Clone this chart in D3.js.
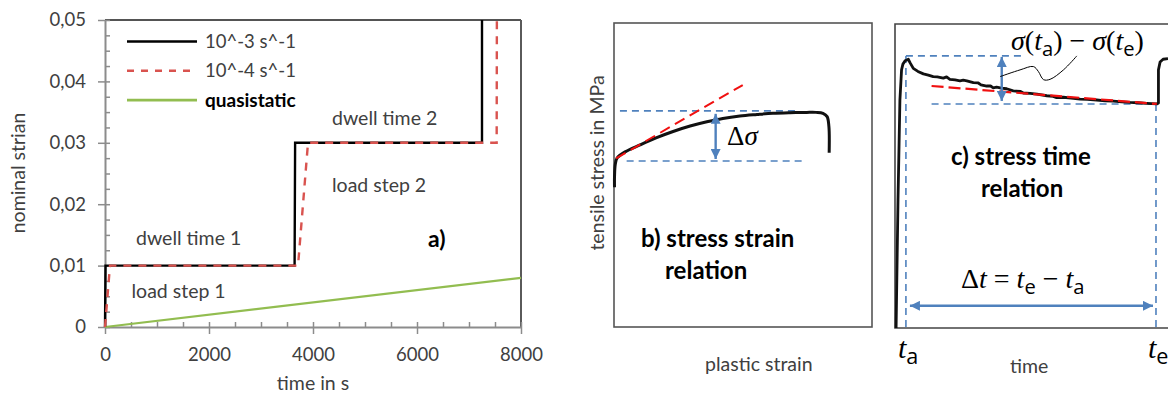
<!DOCTYPE html>
<html><head><meta charset="utf-8">
<script src="https://cdn.jsdelivr.net/npm/d3@7"></script>
<style>
html,body{margin:0;padding:0;background:#fff;}
svg{display:block;font-family:Lato,"Open Sans",sans-serif;}
</style></head><body>
<svg id="chart" width="1168" height="396"></svg>
<script>
// ================= DATA =================
// panel a) nominal strain vs time
const timeTicks = [0, 2000, 4000, 6000, 8000];
const timeMinorTicks = [0,500,1000,1500,2000,2500,3000,3500,4000,4500,5000,5500,6000,6500,7000,7500,8000];
const strainTicks = [0, 0.01, 0.02, 0.03, 0.04, 0.05];
const strainMinorTicks = [0,0.0025,0.005,0.0075,0.01,0.0125,0.015,0.0175,0.02,0.0225,0.025,0.0275,0.03,0.0325,0.035,0.0375,0.04,0.0425,0.045,0.0475,0.05];
const seriesNames = ["10^-3 s^-1", "10^-4 s^-1", "quasistatic"];
const fastTime   = [0, 10, 3646, 3656, 7250, 7250];
const fastStrain = [0, 0.01, 0.01, 0.03, 0.03, 0.05];
const slowTime   = [0, 96, 3712, 3904, 7532, 7536];
const slowStrain = [0, 0.01, 0.01, 0.03, 0.03, 0.05];
const quasiTime   = [0, 8000];
const quasiStrain = [0, 0.008];
const labelsA = ["dwell time 1", "load step 1", "dwell time 2", "load step 2", "a)"];
const titlesA = ["time in s", "nominal strian"];

// panel b) stress strain relation (schematic units 0..100)
const bStrain = [0.2, 0.2, 0.5, 1.2, 4.3, 10.1, 16.3, 22.9, 29.5, 36.0, 42.2, 48.8, 55.4, 61.6, 68.2, 74.7, 78.3, 81.0, 82.6, 83.3, 83.4];
const bStress = [46, 49.5, 53.5, 55.6, 57.6, 59.9, 62.2, 64.3, 66.1, 67.5, 68.6, 69.4, 69.9, 70.3, 70.5, 70.6, 70.6, 70.3, 69.2, 65.9, 57.3];
const bTangentStrain = [0.8, 49.9];
const bTangentStress = [55.5, 79.6];
const bUpperLevel = {from: 2.3, to: 70.9, stress: 71.1};
const bLowerLevel = {from: 4.9, to: 73.3, stress: 54.6};
const bArrowStrain = 39.4;
const titlesB = ["plastic strain", "tensile stress in MPa", "b) stress strain", "relation"];

// panel c) stress time relation (schematic units 0..100)
const cTime   = [0.4, 1.1, 1.8, 2.4, 2.9, 3.7, 4.9, 5.5, 6.7, 8.4, 10.4, 12.2, 14.0, 15.5, 17.7, 18.9, 20.1, 22.0, 23.8, 25.0, 26.3, 28.7, 30.5, 31.5, 33.6, 35.0, 36.0, 37.2, 39.0, 40.9, 43.3, 46.0, 47.0, 49.5, 52.0, 55.6, 58.0, 59.0, 61.7, 64.5, 67.8, 70.5, 73.9, 77.0, 80.0, 83.0, 86.1, 89.0, 92.2, 95.9, 96.5, 96.5, 97.1, 98.2, 100];
const cStress = [0, 42.1, 75.0, 84.9, 86.8, 87.9, 88.4, 87.3, 85.4, 84.4, 83.6, 83.2, 82.7, 82.6, 82.2, 82.6, 81.8, 81.6, 81.3, 81.5, 81.3, 80.7, 80.6, 80.0, 79.6, 79.6, 79.0, 79.2, 78.9, 78.7, 78.0, 77.8, 77.3, 77.2, 76.9, 76.4, 76.2, 75.8, 75.9, 75.6, 75.3, 75.2, 75.0, 74.7, 74.6, 74.4, 74.2, 74.1, 73.9, 73.7, 74.0, 84.9, 87.5, 88.4, 88.6];
const cTrendTime = [13.4, 95.9];
const cTrendStress = [79.6, 73.7];
const cStart = {time: 4.0, stress: 89.5, lineTo: 46.4};
const cEnd   = {time: 95.6, stress: 73.7, lineFrom: 13.4};
const cArrowTime = 39.1;
const cSpanStress = 7.3;
const cLeaderTime   = [38.5, 45.8, 50.7, 52.5, 54.4, 56.8, 61.7, 66.6];
const cLeaderStress = [82.7, 84.9, 86.0, 84.4, 81.7, 81.8, 84.9, 89.5];
const titlesC = ["time", "c) stress time", "relation"];

// ================= DRAW =================
const svg = d3.select("#chart");
const GRAY_TXT = "#404040";
const BLUE = "#4f81bd";
const defs = svg.append("defs");
defs.append("marker").attr("id","arr").attr("viewBox","0 0 10 10")
  .attr("refX",10).attr("refY",5).attr("markerWidth",11).attr("markerHeight",10)
  .attr("markerUnits","userSpaceOnUse").attr("orient","auto-start-reverse")
  .append("path").attr("d","M0,0 L10,5 L0,10 Z").attr("fill",BLUE);

// ---------- panel a ----------
const xA = d3.scaleLinear().domain([0, 8000]).range([105, 521]);
const yA = d3.scaleLinear().domain([0, 0.05]).range([327, 20]);
const gA = svg.append("g");
const fmtStrain = d => d === 0 ? "0" : d.toFixed(2).replace(".", ",");

gA.append("line").attr("x1", xA(0)).attr("x2", xA(8000)).attr("y1", yA(0.05)).attr("y2", yA(0.05))
  .attr("stroke", "#1a1a1a").attr("stroke-width", 1.5);
gA.append("line").attr("x1", xA(8000)).attr("x2", xA(8000)).attr("y1", yA(0.05)).attr("y2", yA(0))
  .attr("stroke", "#5a5a5a").attr("stroke-width", 2);

function styleAxis(g) {
  g.selectAll("path.domain").attr("stroke", "#8c8c8c").attr("stroke-width", 2);
  g.selectAll(".tick line").attr("stroke", "#8c8c8c").attr("stroke-width", 1.5);
  g.selectAll(".tick text").attr("fill", GRAY_TXT).style("font-size", "18.5px").style("font-family", "Lato");
}
const xAxisMinor = gA.append("g").attr("transform", `translate(0,${yA(0)})`)
  .call(d3.axisTop(xA).tickValues(timeMinorTicks).tickSize(5).tickFormat(""));
styleAxis(xAxisMinor); xAxisMinor.select("path.domain").remove();
const yAxisMinor = gA.append("g").attr("transform", `translate(${xA(0)},0)`)
  .call(d3.axisRight(yA).tickValues(strainMinorTicks).tickSize(5).tickFormat(""));
styleAxis(yAxisMinor); yAxisMinor.select("path.domain").remove();
const xAxis = gA.append("g").attr("transform", `translate(0,${yA(0)})`)
  .call(d3.axisBottom(xA).tickValues(timeTicks).tickSize(7).tickSizeOuter(0).tickPadding(14).tickFormat(d3.format("d")));
styleAxis(xAxis);
const yAxis = gA.append("g").attr("transform", `translate(${xA(0)},0)`)
  .call(d3.axisLeft(yA).tickValues(strainTicks).tickSize(7).tickSizeOuter(0).tickPadding(12).tickFormat(fmtStrain));
styleAxis(yAxis);

const lineA = d3.line().x(d => xA(d[0])).y(d => yA(d[1]));
gA.append("path").datum(d3.zip(quasiTime, quasiStrain)).attr("d", lineA).attr("fill", "none").attr("stroke", "#92bd50").attr("stroke-width", 2.2);
gA.append("path").datum(d3.zip(fastTime, fastStrain)).attr("d", lineA).attr("fill", "none").attr("stroke", "#000").attr("stroke-width", 2.4);
gA.append("path").datum(d3.zip(slowTime, slowStrain)).attr("d", lineA).attr("fill", "none").attr("stroke", "#d9534f")
  .attr("stroke-width", 2.4).attr("stroke-dasharray", "8,7");

// legend
const legendStyles = [
  {stroke: "#000", dash: null, bold: false},
  {stroke: "#d9534f", dash: "7,7", bold: false},
  {stroke: "#92bd50", dash: null, bold: true}
];
seriesNames.forEach((name, i) => {
  const ly = 41.5 + i * 29.3;
  const st = legendStyles[i];
  gA.append("line").attr("x1", 127).attr("x2", 197).attr("y1", ly).attr("y2", ly)
    .attr("stroke", st.stroke).attr("stroke-width", 2.6).attr("stroke-dasharray", st.dash);
  gA.append("text").attr("x", 205).attr("y", ly + 6.5).text(name)
    .attr("fill", st.bold ? "#000" : GRAY_TXT).style("font-size", st.bold ? "19px" : "18.5px")
    .style("font-weight", st.bold ? "bold" : "normal");
});
const annA = [[136, 245], [131.5, 298], [332, 125], [332, 191.5]];
annA.forEach((p, i) => {
  gA.append("text").attr("x", p[0]).attr("y", p[1]).text(labelsA[i]).attr("fill", GRAY_TXT).style("font-size", "19.5px");
});
gA.append("text").attr("x", 428).attr("y", 247).text(labelsA[4]).style("font-size", "23px").style("font-weight", "bold");
gA.append("text").attr("x", (xA(0) + xA(8000)) / 2).attr("y", 390).attr("text-anchor", "middle")
  .text(titlesA[0]).attr("fill", GRAY_TXT).style("font-size", "19.5px");
gA.append("text").attr("transform", "translate(25,173) rotate(-90)").attr("text-anchor", "middle")
  .text(titlesA[1]).attr("fill", GRAY_TXT).style("font-size", "19.5px");

// ---------- panel b ----------
const xB = d3.scaleLinear().domain([0, 100]).range([614, 872]);
const yB = d3.scaleLinear().domain([0, 100]).range([327, 23]);
const gB = svg.append("g");
gB.append("rect").attr("x", xB(0)).attr("y", yB(100)).attr("width", xB(100) - xB(0)).attr("height", yB(0) - yB(100))
  .attr("fill", "none").attr("stroke", "#555").attr("stroke-width", 1.6);
gB.append("line").attr("x1", xB(bUpperLevel.from)).attr("x2", xB(bUpperLevel.to))
  .attr("y1", yB(bUpperLevel.stress)).attr("y2", yB(bUpperLevel.stress))
  .attr("stroke", BLUE).attr("stroke-width", 1.6).attr("stroke-dasharray", "7,5");
gB.append("line").attr("x1", xB(bLowerLevel.from)).attr("x2", xB(bLowerLevel.to))
  .attr("y1", yB(bLowerLevel.stress)).attr("y2", yB(bLowerLevel.stress))
  .attr("stroke", BLUE).attr("stroke-width", 1.6).attr("stroke-dasharray", "7,5");
const lineB = d3.line().x(d => xB(d[0])).y(d => yB(d[1])).curve(d3.curveCatmullRom);
gB.append("path").datum(d3.zip(bStrain, bStress)).attr("d", lineB).attr("fill", "none")
  .attr("stroke", "#111").attr("stroke-width", 3).attr("stroke-linejoin", "round");
gB.append("line").attr("x1", xB(bTangentStrain[0])).attr("x2", xB(bTangentStrain[1]))
  .attr("y1", yB(bTangentStress[0])).attr("y2", yB(bTangentStress[1]))
  .attr("stroke", "#f01010").attr("stroke-width", 2).attr("stroke-dasharray", "11,6");
gB.append("line").attr("x1", xB(bArrowStrain)).attr("x2", xB(bArrowStrain))
  .attr("y1", yB(bUpperLevel.stress) + 3).attr("y2", yB(bLowerLevel.stress) - 2)
  .attr("stroke", BLUE).attr("stroke-width", 2.4).attr("marker-start", "url(#arr)").attr("marker-end", "url(#arr)");
const dsig = gB.append("text").attr("x", 727).attr("y", 145).style("font-family", "'Liberation Serif'").style("font-size", "27px");
dsig.append("tspan").text("Δ");
dsig.append("tspan").text("σ").style("font-style", "italic");
gB.append("text").attr("transform", "translate(604,163) rotate(-90)").attr("text-anchor", "middle")
  .text(titlesB[1]).attr("fill", GRAY_TXT).style("font-size", "19.5px");
gB.append("text").attr("x", 705).attr("y", 371).text(titlesB[0]).attr("fill", GRAY_TXT).style("font-size", "19.5px");
gB.append("text").attr("x", 641).attr("y", 247).text(titlesB[2]).style("font-size", "24px").style("font-weight", "bold");
gB.append("text").attr("x", 665).attr("y", 279).text(titlesB[3]).style("font-size", "24px").style("font-weight", "bold");

// ---------- panel c ----------
const xC = d3.scaleLinear().domain([0, 100]).range([895, 1168]);
const yC = d3.scaleLinear().domain([0, 100]).range([328, 24]);
const gC = svg.append("g");
gC.append("path").attr("d", `M${xC(102)},${yC(100)}H${xC(0)}V${yC(0)}H${xC(102)}`)
  .attr("fill", "none").attr("stroke", "#444").attr("stroke-width", 1.6);
const dashBlue = (g, x1, y1, x2, y2) => g.append("line").attr("x1", x1).attr("y1", y1).attr("x2", x2).attr("y2", y2)
  .attr("stroke", BLUE).attr("stroke-width", 1.6).attr("stroke-dasharray", "7,5");
dashBlue(gC, xC(cStart.time), yC(cStart.stress), xC(cStart.lineTo), yC(cStart.stress));
dashBlue(gC, xC(cStart.time), yC(cStart.stress), xC(cStart.time), yC(0));
dashBlue(gC, xC(cEnd.lineFrom), yC(cEnd.stress), xC(cEnd.time), yC(cEnd.stress));
dashBlue(gC, xC(cEnd.time), yC(cEnd.stress), xC(cEnd.time), yC(0));
const lineC = d3.line().x(d => xC(d[0])).y(d => yC(d[1]));
gC.append("path").datum(d3.zip(cTime, cStress)).attr("d", lineC).attr("fill", "none")
  .attr("stroke", "#111").attr("stroke-width", 2.8).attr("stroke-linejoin", "round");
gC.append("line").attr("x1", xC(cTrendTime[0])).attr("x2", xC(cTrendTime[1]))
  .attr("y1", yC(cTrendStress[0])).attr("y2", yC(cTrendStress[1]))
  .attr("stroke", "#f01010").attr("stroke-width", 2.2).attr("stroke-dasharray", "12,5");
gC.append("line").attr("x1", xC(cArrowTime)).attr("x2", xC(cArrowTime))
  .attr("y1", yC(cStart.stress) + 1).attr("y2", yC(cEnd.stress) - 3)
  .attr("stroke", BLUE).attr("stroke-width", 2.4).attr("marker-start", "url(#arr)").attr("marker-end", "url(#arr)");
gC.append("line").attr("x1", xC(cStart.time) + 4).attr("x2", xC(cEnd.time) - 3)
  .attr("y1", yC(cSpanStress)).attr("y2", yC(cSpanStress))
  .attr("stroke", BLUE).attr("stroke-width", 2.4).attr("marker-start", "url(#arr)").attr("marker-end", "url(#arr)");
gC.append("path").datum(d3.zip(cLeaderTime, cLeaderStress))
  .attr("d", d3.line().x(d => xC(d[0])).y(d => yC(d[1])).curve(d3.curveCatmullRom))
  .attr("fill", "none").attr("stroke", "#000").attr("stroke-width", 1);

function mathText(g, x, y, size, parts) {
  const t = g.append("text").attr("x", x).attr("y", y).style("font-family", "'Liberation Serif'").style("font-size", size + "px");
  let shift = 0;
  parts.forEach(p => {
    const s = t.append("tspan").text(p.t);
    if (p.i) s.style("font-style", "italic");
    const want = p.sub ? size * 0.2 : 0;
    if (want !== shift) { s.attr("dy", want - shift); shift = want; }
    if (p.sub) s.style("font-size", (size * 0.72) + "px").style("font-family", "'Open Sans'");
  });
  return t;
}
const SP = "\u2005";
mathText(gC, 1011, 50, 28, [{t:"σ",i:1},{t:"("},{t:"t",i:1},{t:"a",sub:1},{t:")" + SP + "−" + SP},{t:"σ",i:1},{t:"("},{t:"t",i:1},{t:"e",sub:1},{t:")"}]);
mathText(gC, 961, 288, 28, [{t:"Δ"},{t:"t",i:1},{t:SP + "=" + SP},{t:"t",i:1},{t:"e",sub:1},{t:SP + "−" + SP},{t:"t",i:1},{t:"a",sub:1}]);
mathText(gC, 898, 358, 30, [{t:"t",i:1},{t:"a",sub:1}]);
mathText(gC, 1148, 358, 30, [{t:"t",i:1},{t:"e",sub:1}]);
gC.append("text").attr("x", 1010).attr("y", 373).text(titlesC[0]).attr("fill", GRAY_TXT).style("font-size", "19.5px");
gC.append("text").attr("x", 951).attr("y", 165).text(titlesC[1]).style("font-size", "24px").style("font-weight", "bold");
gC.append("text").attr("x", 981).attr("y", 197).text(titlesC[2]).style("font-size", "24px").style("font-weight", "bold");
</script>
</body></html>
